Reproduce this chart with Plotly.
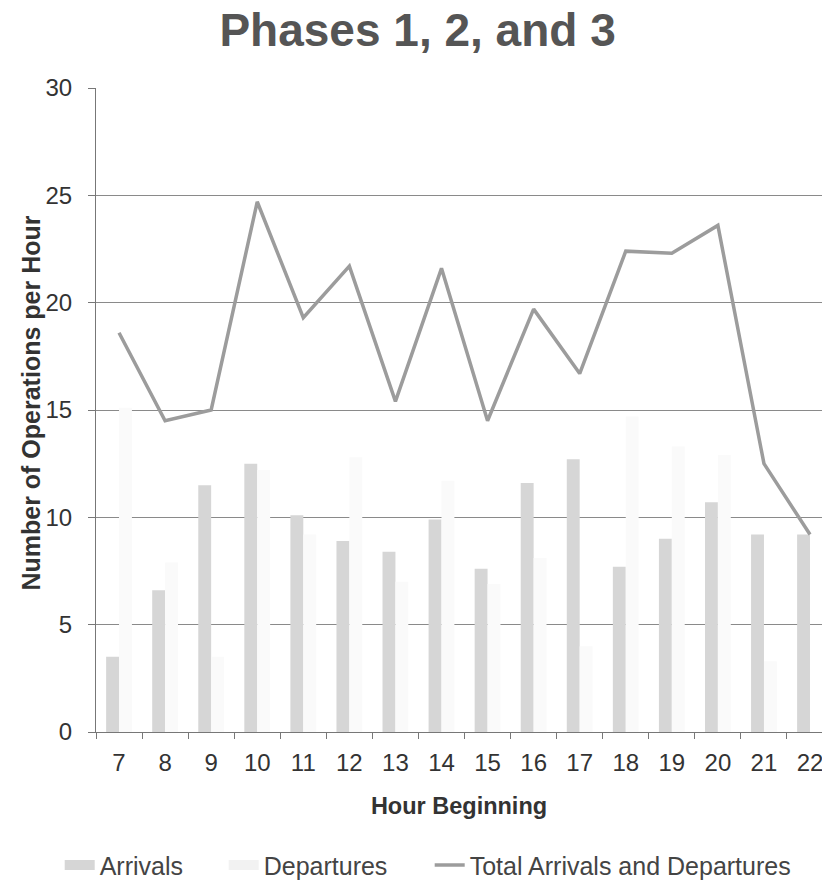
import plotly.graph_objects as go

hours = ["7", "8", "9", "10", "11", "12", "13", "14", "15", "16", "17", "18", "19", "20", "21", "22"]
arrivals = [3.5, 6.6, 11.5, 12.5, 10.1, 8.9, 8.4, 9.9, 7.6, 11.6, 12.7, 7.7, 9.0, 10.7, 9.2, 9.2]
departures = [15.1, 7.9, 3.5, 12.2, 9.2, 12.8, 7.0, 11.7, 6.9, 8.1, 4.0, 14.7, 13.3, 12.9, 3.3, 0.0]
total = [18.6, 14.5, 15.0, 24.7, 19.3, 21.7, 15.4, 21.6, 14.5, 19.7, 16.7, 22.4, 22.3, 23.6, 12.5, 9.2]
y_ticks = [0, 5, 10, 15, 20, 25, 30]

FONT = "Liberation Sans, Arial, sans-serif"
ARR_COLOR = "#d6d6d6"
DEP_COLOR = "#fafafa"
TOT_COLOR = "#9c9c9c"

fig = go.Figure()
fig.add_trace(go.Bar(x=hours, y=arrivals, name="Arrivals", showlegend=False,
                     marker=dict(color=ARR_COLOR, line=dict(width=0))))
fig.add_trace(go.Bar(x=hours, y=departures, name="Departures", showlegend=False,
                     marker=dict(color=DEP_COLOR, line=dict(width=0))))
fig.add_trace(go.Scatter(x=hours, y=total, name="Total Arrivals and Departures",
                         mode="lines", line=dict(color=TOT_COLOR, width=3.5),
                         showlegend=False))

# legend entries (wide swatches like the original)
fig.add_trace(go.Scatter(x=[None], y=[None], name="Arrivals", mode="lines",
                         line=dict(color=ARR_COLOR, width=12), legendwidth=119))
fig.add_trace(go.Scatter(x=[None], y=[None], name="Departures", mode="lines",
                         line=dict(color="#f2f2f2", width=12), legendwidth=161))
fig.add_trace(go.Scatter(x=[None], y=[None], name="Total Arrivals and Departures",
                         mode="lines", line=dict(color=TOT_COLOR, width=3.5)))

fig.update_layout(
    width=822, height=884,
    margin=dict(l=96, r=0, t=88, b=152, autoexpand=False),
    paper_bgcolor="white", plot_bgcolor="white",
    font=dict(family=FONT, color="#333333"),
    title=dict(text="<b>Phases 1, 2, and 3</b>", x=0.508, xanchor="center",
               y=0.966, yanchor="middle",
               font=dict(size=46, color="#555555", family=FONT)),
    barmode="group", bargap=0.44, bargroupgap=0.0,
    showlegend=True,
    legend=dict(orientation="h", x=-0.05, xanchor="left", y=-0.207, yanchor="middle",
                font=dict(size=25, color="#444444", family=FONT),
                traceorder="normal", itemwidth=30),
    annotations=[dict(text="<b>Number of Operations per Hour</b>", xref="paper", yref="paper",
                      x=-0.09, y=0.511, xanchor="center", yanchor="middle",
                      textangle=-90, showarrow=False,
                      font=dict(size=25, color="#333333", family=FONT))],
)
fig.update_xaxes(
    type="category", range=[-0.5, 15.26],
    title=dict(text="<b>Hour Beginning</b>", font=dict(size=23.5, color="#333333"), standoff=22),
    tickfont=dict(size=24, color="#333333"),
    showline=True, linecolor="#777777", linewidth=1,
    ticks="outside", tickson="boundaries", ticklen=6, tickcolor="#777777",
    ticklabelstandoff=9,
    showgrid=False,
)
fig.update_yaxes(
    range=[0, 30], tickvals=y_ticks,
    tickfont=dict(size=24, color="#333333"),
    showline=True, linecolor="#777777", linewidth=1,
    ticks="outside", ticklen=7, tickcolor="#777777",
    ticklabelstandoff=11,
    showgrid=True, gridcolor="#8a8a8a", gridwidth=1,
    zeroline=False,
)

fig.write_html("out.html")
